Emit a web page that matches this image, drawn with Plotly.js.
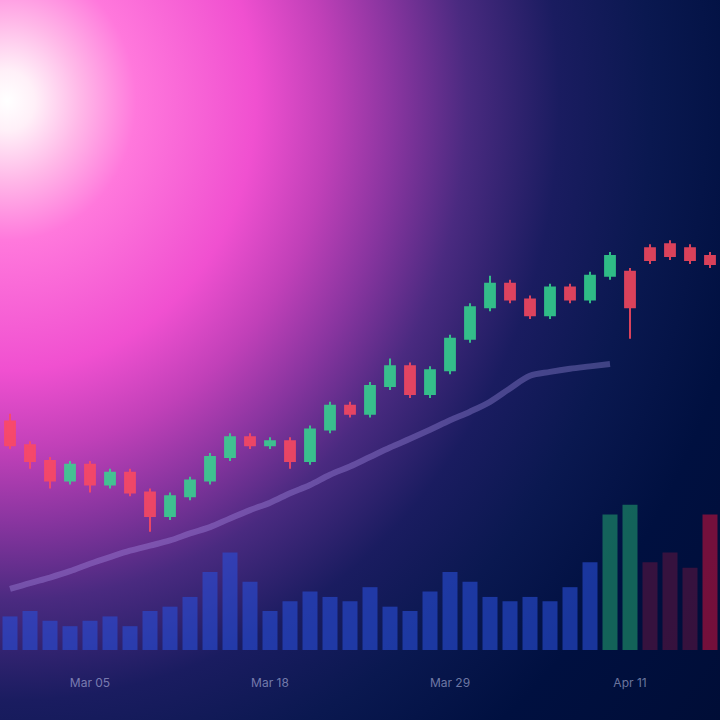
<!DOCTYPE html>
<html>
<head>
<meta charset="utf-8">
<script src="https://cdn.plot.ly/plotly-3.0.1.min.js"></script>
<style>
  html, body { margin: 0; padding: 0; }
  body {
    width: 720px; height: 720px; overflow: hidden;
    background: radial-gradient(ellipse 920px 1000px at 1% 14%,
      #ffffff 0%, #fff0f8 3%, #ffb8e8 8%, #ff78dc 14%, #f050d0 27%,
      #c040b8 35%, #8a35a0 42%, #4a2a80 50%, #1a1c60 60%, #0a1850 70%, #001040 82%, #000d36 100%);
  }
  #chart { width: 720px; height: 720px; }
</style>
</head>
<body>
<div id="chart"></div>
<script>
// ---- data ----
const idx = [0,1,2,3,4,5,6,7,8,9,10,11,12,13,14,15,16,17,18,19,20,21,22,23,24,25,26,27,28,29,30,31,32,33,34,35];
const openP  = [103, 97, 93, 88, 92, 87, 90, 85, 79, 84, 88, 94, 99, 97, 98, 93, 101, 107, 105, 112, 117, 110, 116, 124, 132, 138, 134, 130, 137, 134, 140, 141, 147, 148, 147, 145];
const highP  = [105, 98, 94, 93, 93, 91, 91, 86, 85, 89, 95, 100, 100, 99, 99, 102, 108, 108, 113, 119, 118, 117, 125, 133, 140, 139, 135, 138, 138, 141, 146, 142, 148, 149, 148, 146];
const lowP   = [96, 91, 86, 87, 85, 86, 84, 75, 78, 83, 87, 93, 96, 96, 91, 92, 100, 104, 104, 111, 109, 109, 115, 123, 131, 133, 129, 129, 133, 133, 139, 124, 143, 144, 143, 142];
const closeP = [97, 93, 88, 92, 87, 90, 85, 79, 84, 88, 94, 99, 97, 98, 93, 101, 107, 105, 112, 117, 110, 116, 124, 132, 138, 134, 130, 137, 134, 140, 145, 132, 144, 145, 144, 143];
const volume = [31, 36, 27, 22, 27, 31, 22, 36, 40, 49, 72, 90, 63, 36, 45, 54, 49, 45, 58, 40, 36, 54, 72, 63, 49, 45, 49, 45, 58, 81, 125, 134, 81, 90, 76, 125];
const volColors = ["#2a4fd8","#2a4fd8","#2a4fd8","#2a4fd8","#2a4fd8","#2a4fd8","#2a4fd8","#2a4fd8","#2a4fd8","#2a4fd8",
  "#2a4fd8","#2a4fd8","#2a4fd8","#2a4fd8","#2a4fd8","#2a4fd8","#2a4fd8","#2a4fd8","#2a4fd8","#2a4fd8",
  "#2a4fd8","#2a4fd8","#2a4fd8","#2a4fd8","#2a4fd8","#2a4fd8","#2a4fd8","#2a4fd8","#2a4fd8","#2a4fd8",
  "#1f9a6a","#1f9a6a","#5a1440","#5a1440","#5a1440","#c0103c"];
const maIdx = [0,1,2,3,4,5,6,7,8,9,10,11,12,13,14,15,16,17,18,19,20,21,22,23,24,25,26,27,28,29,30];
const maVal = [60.5, 62, 63.4, 65, 66.9, 68.6, 70.2, 71.5, 72.8, 74.6, 76.2, 78.4, 80.5, 82.4, 84.8, 86.9, 89.5, 91.6, 94, 96.4, 98.6, 100.9, 103.3, 105.5, 108, 111.4, 114.6, 115.6, 116.4, 117, 117.6];
const tickPos = [4, 13, 22, 31];
const tickLabels = ["Mar 05", "Mar 18", "Mar 29", "Apr 11"];

const traces = [
  {
    type: 'bar', x: idx, y: volume, yaxis: 'y2',
    marker: { color: volColors, opacity: 0.6, line: { width: 0 } },
    hoverinfo: 'skip', showlegend: false
  },
  {
    type: 'scatter', mode: 'lines', x: maIdx, y: maVal,
    line: { color: 'rgba(190,170,255,0.3)', width: 6, shape: 'spline' },
    hoverinfo: 'skip', showlegend: false
  },
  {
    type: 'candlestick', x: idx, open: openP, high: highP, low: lowP, close: closeP,
    increasing: { line: { color: '#35d98f', width: 2 }, fillcolor: '#35d98f' },
    decreasing: { line: { color: '#ff4a5e', width: 2 }, fillcolor: '#ff4a5e' },
    whiskerwidth: 0, opacity: 0.85, showlegend: false
  }
];

const layout = {
  width: 720, height: 720,
  margin: { l: 0, r: 0, t: 0, b: 70 },
  paper_bgcolor: 'rgba(0,0,0,0)', plot_bgcolor: 'rgba(0,0,0,0)',
  showlegend: false,
  bargap: 0.25,
  xaxis: {
    range: [-0.5, 35.5], rangeslider: { visible: false },
    showgrid: false, zeroline: false, showline: false,
    tickmode: 'array', tickvals: tickPos, ticktext: tickLabels,
    ticks: 'outside', ticklen: 22, tickcolor: 'rgba(0,0,0,0)',
    tickfont: { family: 'Inter, Roboto, sans-serif', size: 12, color: 'rgba(200,205,240,0.55)' }
  },
  yaxis: {
    range: [45, 210], showgrid: false, zeroline: false, showticklabels: false, showline: false
  },
  yaxis2: {
    range: [0, 600], overlaying: 'y', showgrid: false, zeroline: false, showticklabels: false, showline: false
  }
};

Plotly.newPlot('chart', traces, layout, { displayModeBar: false, staticPlot: true });
</script>
</body>
</html>
